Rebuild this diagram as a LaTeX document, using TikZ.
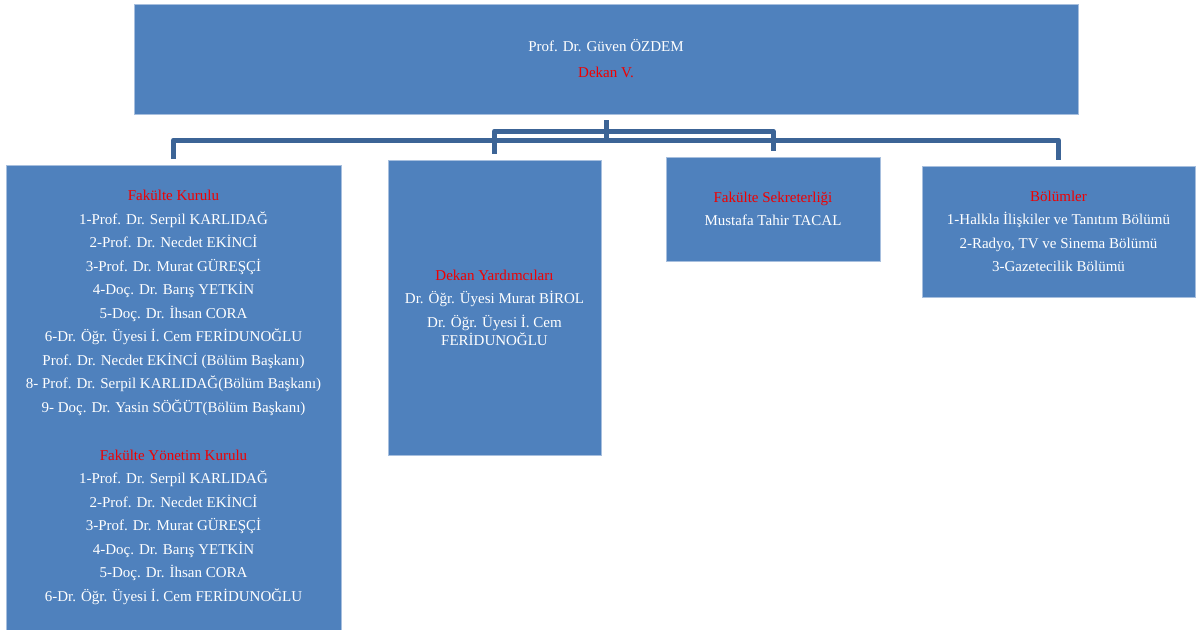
\documentclass[tikz,border=0pt]{standalone}
\usepackage{fontspec}
\setmainfont{Liberation Serif}
\definecolor{boxblue}{HTML}{4F81BD}
\definecolor{boxline}{HTML}{A7BFDE}
\definecolor{connblue}{HTML}{3C6496}
\definecolor{hdred}{HTML}{F00000}
\newcommand{\hd}[1]{\textcolor{hdred}{#1}}
\begin{document}
\begin{tikzpicture}[x=1pt,y=-1pt,
  unit/.style={draw=boxline, line width=0.8pt, fill=boxblue, text=white, align=center,
    inner sep=0pt, font=\fontsize{15}{23.5}\selectfont},
  conn/.style={draw=connblue, line width=5pt, line join=round, shorten <=6pt, shorten >=6pt}]
\useasboundingbox (0,0) rectangle (1199,629);
\begin{scope}
\clip (0,0) rectangle (1199,629);
\node[unit, minimum width=944pt, minimum height=110pt] (dean) at (606,59)
  {Prof. Dr. Güven ÖZDEM\\[2.5pt] \hd{Dekan V.}};
\node[unit, minimum width=335pt, minimum height=465pt] (fk) at (173.5,397.5)
  {\hd{Fakülte Kurulu}\\
   1-Prof. Dr. Serpil KARLIDAĞ\\
   2-Prof. Dr. Necdet EKİNCİ\\
   3-Prof. Dr. Murat GÜREŞÇİ\\
   4-Doç. Dr. Barış YETKİN\\
   5-Doç. Dr. İhsan CORA\\
   6-Dr. Öğr. Üyesi İ. Cem FERİDUNOĞLU\\
   Prof. Dr. Necdet EKİNCİ (Bölüm Başkanı)\\
   8- Prof. Dr. Serpil KARLIDAĞ(Bölüm Başkanı)\\
   9- Doç. Dr. Yasin SÖĞÜT(Bölüm Başkanı)\\[24.5pt]
   \hd{Fakülte Yönetim Kurulu}\\
   1-Prof. Dr. Serpil KARLIDAĞ\\
   2-Prof. Dr. Necdet EKİNCİ\\
   3-Prof. Dr. Murat GÜREŞÇİ\\
   4-Doç. Dr. Barış YETKİN\\
   5-Doç. Dr. İhsan CORA\\
   6-Dr. Öğr. Üyesi İ. Cem FERİDUNOĞLU};
\node[unit, minimum width=213pt, minimum height=295pt] (dy) at (494.5,307.5)
  {\hd{Dekan Yardımcıları}\\
   Dr. Öğr. Üyesi Murat BİROL\\
   Dr. Öğr. Üyesi İ. Cem\\[-5.5pt]
   FERİDUNOĞLU};
\node[unit, minimum width=214pt, minimum height=104pt] (fs) at (773,209)
  {\hd{Fakülte Sekreterliği}\\
   Mustafa Tahir TACAL};
\node[unit, minimum width=273pt, minimum height=131pt] (bl) at (1058.5,231.5)
  {\hd{Bölümler}\\
   1-Halkla İlişkiler ve Tanıtım Bölümü\\
   2-Radyo, TV ve Sinema Bölümü\\
   3-Gazetecilik Bölümü};
\coordinate (hb) at (606,140);
\coordinate (hs) at (606,131);
\draw[conn] (dean.south) -- (hb) -| (fk.north);
\draw[conn] (dean.south) -- (hb) -| (bl.north);
\draw[conn] (dean.south) -- (hs) -| (dy.north);
\draw[conn] (dean.south) -- (hs) -| (fs.north);
\end{scope}
\end{tikzpicture}
\end{document}
